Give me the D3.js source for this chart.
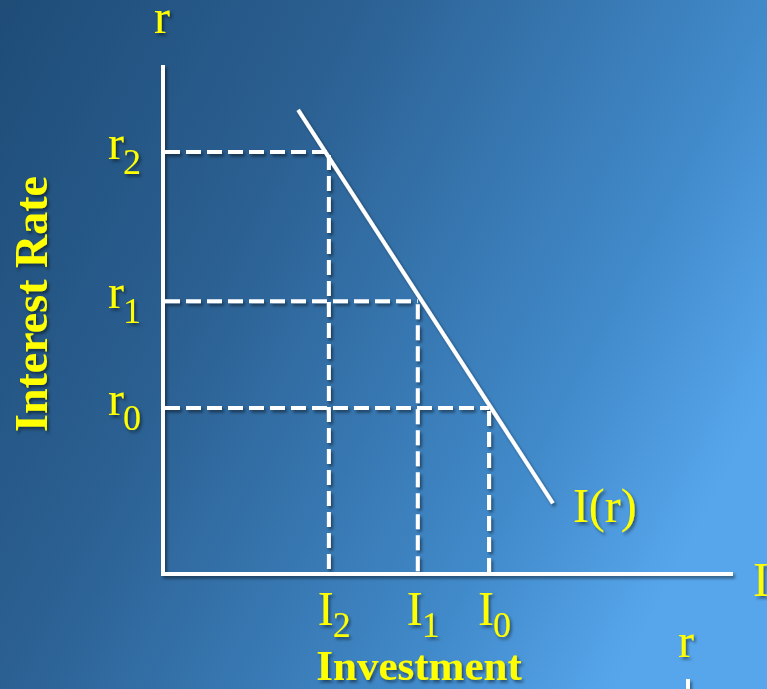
<!DOCTYPE html>
<html>
<head>
<meta charset="utf-8">
<script src="https://cdn.jsdelivr.net/npm/d3@7"></script>
<style>
html,body{margin:0;padding:0;overflow:hidden;background:#2a5f8f;}
svg{display:block;}
text{font-family:"Liberation Serif","Times New Roman",serif;fill:#ffff00;}
</style>
</head>
<body>
<script>
// ---- data ----
const rateLevels = [
  {name:"r", sub:"0", value:32.6},
  {name:"r", sub:"1", value:53.6},
  {name:"r", sub:"2", value:82.9}
];
const investLevels = [
  {name:"I", sub:"0", value:57.2},
  {name:"I", sub:"1", value:44.7},
  {name:"I", sub:"2", value:29.1}
];
// investment schedule I(r): [investment, rate]
const investCurve = [[23.7, 91.2], [68.4, 13.9]];
const curveLabel = "I(r)";
const xAxisLabel = "Investment";
const yAxisLabel = "Interest Rate";

const W = 767, H = 689;
const svg = d3.select("body").append("svg").attr("width", W).attr("height", H);
const defs = svg.append("defs");
const g = defs.append("linearGradient").attr("id","bg")
  .attr("gradientUnits","userSpaceOnUse")
  .attr("x1",0).attr("y1",0).attr("x2",767).attr("y2",400);
[[0,"#1e4c77"],[0.37,"#2b6092"],[0.79,"#418aca"],[1,"#57a6ec"]].forEach(([o,c])=>
  g.append("stop").attr("offset",o).attr("stop-color",c));
const f = defs.append("filter").attr("id","sh").attr("x","-20%").attr("y","-20%").attr("width","140%").attr("height","140%");
f.append("feDropShadow").attr("dx",2).attr("dy",2.5).attr("stdDeviation",1.5)
  .attr("flood-color","#000").attr("flood-opacity",0.45);

svg.append("rect").attr("width",W).attr("height",H).attr("fill","url(#bg)");

const x = d3.scaleLinear().domain([0,100]).range([163,733]);
const y = d3.scaleLinear().domain([0,100]).range([574,65]);

const lines = svg.append("g").attr("filter","url(#sh)")
  .attr("stroke","#fff").attr("stroke-width",4).attr("fill","none");

// intersection of a rate level with the curve
const curveX = d3.scaleLinear().domain([investCurve[0][1], investCurve[1][1]])
  .range([investCurve[0][0], investCurve[1][0]]);

// dashed guide lines
rateLevels.forEach((r,i)=>{
  const inv = investLevels[i].value;
  lines.append("line").attr("x1",x(0)+2).attr("x2",x(inv))
    .attr("y1",y(r.value)).attr("y2",y(r.value))
    .attr("stroke-dasharray","15,6");
  lines.append("line").attr("x1",x(inv)).attr("x2",x(inv))
    .attr("y1",y(r.value)+3).attr("y2",y(0)-2)
    .attr("stroke-dasharray","15,6");
});

// axes
lines.append("line").attr("x1",x(0)).attr("x2",x(0)).attr("y1",y(100)).attr("y2",y(0)+2);
lines.append("line").attr("x1",x(0)-2).attr("x2",x(100)).attr("y1",y(0)).attr("y2",y(0));

// curve
lines.append("path").attr("d", d3.line().x(d=>x(d[0])).y(d=>y(d[1]))(investCurve));

// second panel axis fragment (bottom right)
lines.append("line").attr("x1",688).attr("x2",688).attr("y1",679).attr("y2",H+4);

const txt = svg.append("g").attr("filter","url(#sh)");

// axis end labels
txt.append("text").attr("x",x(0)-9).attr("y",33).attr("font-size",48).text("r");
txt.append("text").attr("x",753).attr("y",596).attr("font-size",48).text("I");
txt.append("text").attr("x",678).attr("y",657).attr("font-size",48).text("r");

// rate labels
rateLevels.forEach(r=>{
  const t = txt.append("text").attr("x",108).attr("y",y(r.value)+7).attr("font-size",48);
  t.append("tspan").text(r.name);
  t.append("tspan").attr("font-size",36).attr("dy",15).attr("dx",-1).text(r.sub);
});

// investment labels
investLevels.forEach(d=>{
  const t = txt.append("text").attr("x",x(d.value)-11).attr("y",625).attr("font-size",48);
  t.append("tspan").text(d.name);
  t.append("tspan").attr("font-size",36).attr("dy",12).attr("dx",-1).text(d.sub);
});

// curve label
txt.append("text").attr("x",x(investCurve[1][0])+20).attr("y",522).attr("font-size",48).text(curveLabel);

// axis titles
txt.append("text").attr("x",419).attr("y",680).attr("text-anchor","middle")
  .attr("font-size",43).attr("font-weight","bold").text(xAxisLabel);
txt.append("text").attr("transform","translate(47,304) rotate(-90)").attr("text-anchor","middle")
  .attr("font-size",46).attr("font-weight","bold").text(yAxisLabel);
</script>
</body>
</html>
